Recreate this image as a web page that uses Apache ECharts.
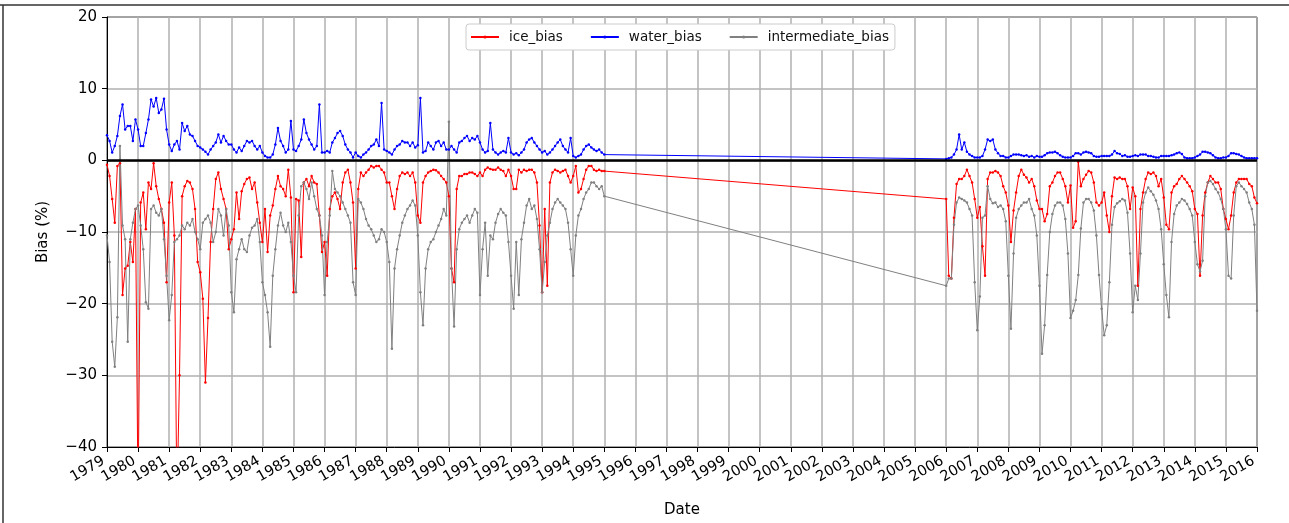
<!DOCTYPE html>
<html>
<head>
<meta charset="utf-8">
<title>Bias</title>
<script src="https://cdn.jsdelivr.net/npm/echarts@6/dist/echarts.min.js"></script>
<style>
html,body{margin:0;padding:0;background:#fff;}
#chart{width:1289px;height:523px;}
</style>
</head>
<body>
<div id="chart"></div>
<script>
"use strict";

// two blocks of monthly samples: Jan 1979 .. Jan 1995 and Jan 2006 .. Jan 2016
var startA = 1979, countA = 193;
var startB = 2006, countB = 121;

// water_bias (%)
var waterA = [
  3.5, 2.7, 1.1, 2.0, 3.4, 6.2, 7.8, 4.3, 4.8, 4.8, 2.7, 5.7,
  4.3, 2.0, 2.0, 3.8, 5.7, 8.5, 7.5, 8.7, 6.6, 7.1, 8.6, 4.3,
  2.2, 1.3, 2.2, 2.7, 1.5, 5.2, 4.1, 4.8, 3.6, 3.4, 2.7, 2.0,
  1.8, 1.5, 1.2, 0.8, 1.5, 2.0, 2.5, 3.6, 2.5, 3.4, 2.7, 2.2,
  2.2, 1.5, 1.1, 1.8, 1.3, 2.0, 2.7, 2.5, 2.7, 2.0, 1.5, 2.0,
  1.1, 0.6, 0.4, 0.4, 0.8, 2.2, 4.5, 2.7, 2.0, 1.1, 1.5, 5.5,
  1.5, 1.3, 2.0, 2.9, 5.7, 3.8, 2.9, 2.2, 1.5, 2.0, 7.8, 1.1,
  1.1, 1.3, 1.1, 2.5, 3.1, 3.8, 4.1, 3.4, 2.2, 1.5, 1.1, 0.4,
  1.1, 0.6, 0.4, 0.8, 1.1, 1.5, 2.0, 2.2, 2.9, 2.0, 8.0, 1.5,
  1.3, 1.1, 0.8, 1.5, 2.0, 2.2, 2.7, 2.5, 2.5, 2.0, 2.5, 1.8,
  2.1, 8.7, 1.1, 1.3, 2.5, 2.0, 1.5, 2.5, 2.7, 2.0, 2.5, 1.5,
  1.5, 2.0, 1.5, 1.1, 2.5, 2.7, 3.1, 3.4, 2.7, 3.1, 2.9, 3.4,
  2.5, 1.5, 1.1, 1.3, 5.2, 1.5, 1.1, 0.8, 1.1, 1.3, 1.1, 3.1,
  1.1, 0.8, 1.0, 0.7, 1.1, 1.5, 2.5, 2.9, 3.1, 2.5, 2.0, 1.5,
  1.1, 1.3, 0.8, 1.1, 1.5, 2.0, 2.5, 2.9, 2.0, 1.5, 1.1, 3.1,
  0.6, 0.4, 0.6, 0.8, 1.5, 2.0, 2.2, 1.8, 1.5, 1.3, 1.5, 1.1,
  0.8
];
var waterB = [
  0.2, 0.3, 0.4, 0.8, 1.5, 3.6, 1.5, 2.5, 1.2, 0.8, 0.6, 0.4,
  0.4, 0.4, 0.6, 1.5, 2.9, 2.7, 2.9, 1.5, 1.0, 0.6, 0.6, 0.4,
  0.4, 0.6, 0.8, 0.8, 0.8, 0.7, 0.6, 0.7, 0.5, 0.6, 0.4, 0.6,
  0.5, 0.5, 0.7, 1.0, 1.1, 1.1, 1.2, 1.0, 0.7, 0.5, 0.4, 0.4,
  0.4, 0.6, 1.0, 1.0, 0.8, 1.1, 1.2, 1.1, 1.0, 0.6, 0.5, 0.5,
  0.6, 0.6, 0.6, 0.6, 0.8, 1.3, 1.0, 0.9, 0.6, 0.7, 0.5, 0.5,
  0.6, 0.7, 0.6, 0.8, 0.8, 0.8, 0.6, 0.6, 0.5, 0.4, 0.4, 0.6,
  0.6, 0.6, 0.6, 0.7, 0.8, 1.0, 1.1, 0.9, 0.4, 0.3, 0.3, 0.3,
  0.4, 0.6, 0.8, 1.2, 1.2, 1.1, 1.0, 0.7, 0.4, 0.3, 0.3, 0.4,
  0.4, 0.6, 1.0, 1.0, 0.9, 0.8, 0.6, 0.4, 0.3, 0.3, 0.3, 0.3,
  0.3
];

// ice_bias (%)
var iceA = [
  -0.6, -2.2, -5.4, -8.7, -0.8, -0.4, -18.8, -15.1, -14.7, -11.4, -14.2, -6.8,
  -48, -5.9, -4.5, -9.6, -3.1, -4.0, -0.4, -3.6, -5.4, -6.8, -8.7, -17,
  -5.9, -3.1, -10.5, -48, -30, -5.0, -3.6, -2.9, -3.1, -4.0, -6.8, -14.2,
  -15.6, -19.3, -31, -22, -11.4, -6.8, -2.6, -1.7, -4.0, -5.4, -6.8, -12.4,
  -11, -9.6, -4.5, -8.2, -4.3, -3.3, -2.6, -2.4, -4.0, -3.1, -5.9, -8.7,
  -11.4, -6.8, -12.8, -7.7, -6.3, -4.0, -2.2, -3.6, -4.0, -5.0, -1.3, -5.2,
  -18.4, -5.4, -5.6, -13.5, -3.1, -2.6, -3.6, -2.2, -3.1, -3.3, -7.7, -12.8,
  -11.4, -16.1, -6.8, -5.0, -4.5, -5.4, -6.8, -3.1, -1.7, -1.3, -3.1, -5.9,
  -15.1, -4.0, -1.7, -2.2, -1.7, -1.3, -0.8, -1.0, -0.8, -0.8, -1.3, -1.7,
  -3.1, -3.1, -5.0, -6.8, -4.0, -2.2, -1.7, -1.9, -1.7, -2.2, -1.7, -3.1,
  -7.7, -8.7, -3.1, -2.2, -1.7, -1.5, -1.3, -1.4, -1.7, -2.2, -2.6, -3.1,
  -5.0, -15.1, -17, -4.0, -2.2, -2.2, -1.9, -1.9, -1.7, -1.7, -1.9, -2.2,
  -1.7, -2.2, -1.3, -1.0, -1.2, -1.3, -1.3, -1.0, -1.3, -1.5, -2.2, -1.3,
  -2.2, -4.0, -4.0, -1.3, -1.7, -1.3, -1.5, -1.3, -1.3, -1.7, -3.1, -9.1,
  -18.4, -6.8, -17.5, -3.1, -1.7, -1.3, -1.5, -1.7, -1.5, -1.3, -2.2, -3.1,
  -2.2, -0.8, -4.5, -4.0, -2.6, -1.3, -0.8, -0.8, -1.3, -1.5, -1.3, -1.5,
  -1.5
];
var iceB = [
  -5.4, -16.1, -16.5, -8.0, -3.3, -2.6, -2.6, -2.2, -1.3, -2.2, -3.1, -5.4,
  -8.0, -6.5, -12, -16.1, -2.6, -1.7, -1.7, -1.5, -1.7, -2.2, -3.6, -4.5,
  -6.3, -11.4, -7.0, -4.5, -2.2, -1.3, -2.0, -2.4, -3.1, -2.6, -3.6, -5.6,
  -6.8, -6.8, -8.5, -7.5, -3.6, -3.1, -2.2, -1.7, -1.7, -2.6, -3.6, -5.9,
  -3.5, -9.4, -8.5, -0.2, -3.6, -2.6, -2.0, -1.5, -1.7, -3.1, -5.9, -6.3,
  -5.9, -4.5, -7.7, -10.0, -5.0, -2.4, -2.6, -2.4, -2.6, -2.6, -3.6, -6.8,
  -3.8, -5.0, -17.5, -6.8, -4.5, -2.6, -1.7, -1.9, -1.7, -2.2, -3.6, -2.6,
  -5.2, -9.0, -9.6, -4.5, -3.6, -3.3, -2.6, -2.2, -2.6, -3.1, -3.6, -4.3,
  -6.8, -7.5, -16.1, -7.7, -4.5, -3.1, -2.2, -2.6, -3.1, -3.1, -4.0, -6.8,
  -8.2, -9.6, -7.7, -4.5, -3.1, -2.6, -2.6, -2.6, -2.6, -3.3, -3.6, -5.2,
  -6.0
];

// intermediate_bias (%)
var interA = [
  -10.5, -14.2, -25.3, -28.8, -21.9, 2.0, -9.1, -11.0, -25.3, -11.0, -8.7, -6.8,
  -6.3, -9.1, -12.4, -19.8, -20.7, -6.8, -6.3, -7.3, -7.7, -6.8, -11.0, -16.1,
  -22.3, -18.8, -11.4, -11.0, -10.5, -9.1, -9.6, -8.7, -9.1, -8.2, -10.0, -11.0,
  -12.4, -8.7, -8.2, -7.7, -8.7, -11.4, -10.0, -6.8, -7.7, -10.5, -6.8, -9.1,
  -18.4, -21.2, -13.8, -12.4, -11.0, -12.4, -12.8, -10.5, -9.4, -9.1, -8.2, -11.4,
  -17, -18.8, -21.2, -26, -16.1, -12.4, -9.1, -7.3, -9.1, -10.0, -8.7, -11.4,
  -16.1, -18.4, -7.7, -3.6, -3.1, -4.0, -5.4, -3.1, -5.0, -6.8, -7.7, -10.5,
  -18.8, -11.4, -7.7, -1.5, -4.0, -4.5, -5.0, -5.9, -6.8, -7.7, -8.7, -17,
  -18.8, -5.4, -5.9, -6.8, -8.2, -9.1, -9.6, -10.5, -11.4, -11.0, -9.6, -10.0,
  -11.4, -14.2, -26.3, -15.1, -12.4, -10.5, -8.7, -7.7, -6.8, -6.3, -5.6, -6.3,
  -10.5, -18.4, -23, -15.1, -12.4, -11.4, -11.0, -10.0, -9.1, -8.2, -6.8, -7.7,
  5.4, -15.1, -23.2, -12.4, -9.6, -8.7, -8.2, -7.7, -8.7, -7.7, -6.8, -7.3,
  -18.8, -12.4, -8.7, -16.1, -10.5, -11.0, -8.7, -7.5, -6.8, -7.3, -7.7, -11.4,
  -16.1, -20.7, -11.4, -18.8, -11.0, -8.7, -6.3, -5.4, -6.8, -6.3, -8.2, -12.4,
  -18.4, -14.2, -10.5, -8.7, -6.8, -5.9, -5.4, -5.9, -6.3, -6.8, -8.7, -12.4,
  -16.1, -10.5, -7.7, -6.8, -5.4, -4.5, -4.0, -3.1, -3.1, -3.6, -4.0, -3.6,
  -5.0
];
var interB = [
  -17.5, -16.5, -16.5, -9.0, -5.9, -5.2, -5.4, -5.6, -5.9, -6.8, -7.7, -17,
  -23.7, -19.0, -8.0, -7.7, -3.6, -5.4, -6.0, -5.9, -6.5, -6.3, -6.8, -8.5,
  -16.1, -23.5, -13.0, -8.0, -6.8, -6.3, -5.9, -5.9, -5.4, -6.8, -7.7, -10.5,
  -17.5, -27.0, -23.0, -16.0, -10.0, -7.5, -6.3, -5.9, -5.9, -6.3, -8.2, -13.0,
  -22.0, -21.0, -19.5, -16.0, -9.5, -5.9, -5.4, -5.4, -5.9, -7.0, -10.5, -16.0,
  -20.7, -24.4, -23.0, -17.0, -9.0, -6.5, -6.0, -5.7, -5.4, -5.6, -7.3, -13.0,
  -21.2, -17.5, -19.5, -13.0, -5.9, -4.5, -3.8, -4.3, -4.8, -5.6, -6.8, -9.6,
  -14.5, -18.8, -21.9, -11.4, -7.5, -6.3, -5.9, -5.4, -5.6, -6.1, -6.8, -7.7,
  -11.4, -14.5, -15.5, -14.0, -5.0, -3.1, -2.9, -3.3, -4.0, -4.5, -5.4, -6.8,
  -9.6, -16.1, -16.5, -7.7, -3.6, -3.1, -3.6, -4.0, -4.5, -5.9, -6.8, -9.0,
  -21.0
];

// 月份 -> 小数年
function monthly(y0, n){
    var d = [];
    for(var i=0;i<n;i++) d.push(y0 + i/12);
    return d;
}
var dates = monthly(startA, countA).concat(monthly(startB, countB));

function pairs(a, b){
    var v = a.concat(b);
    var out = [];
    for(var i=0;i<dates.length;i++) out.push([dates[i], v[i]]);
    return out;
}

var FONT = "DejaVu Sans";
function minus(v){ return v < 0 ? '\u2212' + Math.abs(v) : String(v); }

function lineSeries(name, color, data){
    return {
        name: name,
        type: 'line',
        data: data,
        symbol: 'circle',
        symbolSize: 2.5,
        showSymbol: true,
        lineStyle: {width: 1, color: color},
        itemStyle: {color: color},
        emphasis: {disabled: true}
    };
}

var myChart = echarts.init(document.getElementById('chart'), null, {renderer: 'canvas'});
var zero = lineSeries('intermediate_bias', '#808080', pairs(interA, interB));
// 零线
zero.markLine = {
    silent: true,
    symbol: ['none', 'none'],
    label: {show: false},
    lineStyle: {color: '#000', width: 2.5, type: 'solid'},
    data: [{yAxis: 0}]
};

var option = {
    animation: false,
    backgroundColor: '#fff',
    textStyle: {fontFamily: FONT},
    graphic: [
        {type: 'line', shape: {x1: 0, y1: 5, x2: 1289, y2: 5}, style: {stroke: '#333', lineWidth: 1.5}},
        {type: 'line', shape: {x1: 3, y1: 5, x2: 3, y2: 523}, style: {stroke: '#333', lineWidth: 1.5}}
    ],
    grid: {
        left: 107, right: 32, top: 17, bottom: 74,
        show: true, borderColor: '#000', borderWidth: 1
    },
    legend: {
        left: 466, top: 24,
        itemWidth: 28, itemHeight: 4, itemGap: 27,
        padding: [6, 6, 6, 4],
        backgroundColor: '#fff',
        borderColor: '#cccccc', borderWidth: 1, borderRadius: 3,
        textStyle: {fontFamily: FONT, fontSize: 13.5, color: '#111', padding: [0, 0, 0, 5]},
        data: ['ice_bias', 'water_bias', 'intermediate_bias']
    },
    xAxis: {
        type: 'value',
        min: 1979, max: 2016, interval: 1,
        name: 'Date',
        nameLocation: 'middle',
        nameGap: 56,
        nameTextStyle: {fontFamily: FONT, fontSize: 15, color: '#000'},
        axisLine: {show: true, onZero: false, lineStyle: {color: '#000', width: 1}},
        axisTick: {show: true, length: 5, lineStyle: {color: '#000'}},
        axisLabel: {
            rotate: 30, fontSize: 14.5, color: '#000', margin: 11, fontFamily: FONT,
            padding: [0, 4, 0, 0],
            formatter: function(v){ return String(v); }
        },
        splitLine: {show: true, lineStyle: {color: '#b0b0b0', width: 1.5}}
    },
    yAxis: {
        type: 'value',
        min: -40, max: 20, interval: 10,
        name: 'Bias (%)',
        nameLocation: 'middle',
        nameGap: 56,
        nameTextStyle: {fontFamily: FONT, fontSize: 15, color: '#000'},
        axisLine: {show: true, lineStyle: {color: '#000', width: 1}},
        axisTick: {show: true, length: 5, lineStyle: {color: '#000'}},
        axisLabel: {fontSize: 15, color: '#000', margin: 10, fontFamily: FONT, formatter: minus},
        splitLine: {show: true, lineStyle: {color: '#b0b0b0', width: 1.5}}
    },
    series: [
        lineSeries('ice_bias', '#ff0000', pairs(iceA, iceB)),
        lineSeries('water_bias', '#0000ff', pairs(waterA, waterB)),
        zero
    ]
};
myChart.setOption(option, true);
</script>
</body>
</html>
